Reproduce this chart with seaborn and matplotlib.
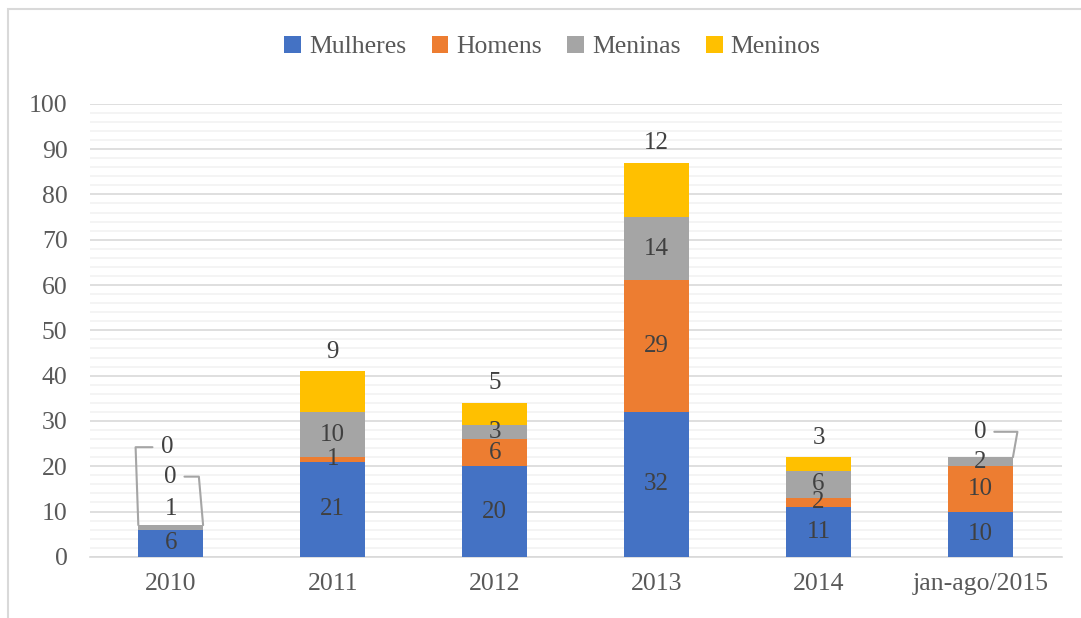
import pandas as pd
import matplotlib.pyplot as plt
import seaborn as sns
from matplotlib.colors import to_hex
from matplotlib.patches import Rectangle, Patch
from matplotlib.ticker import MultipleLocator


anos = ['2010', '2011', '2012', '2013', '2014', 'jan-ago/2015']
grupos = ['Mulheres', 'Homens', 'Meninas', 'Meninos']
mulheres = [6, 21, 20, 32, 11, 10]
homens = [0, 1, 6, 29, 2, 10]
meninas = [1, 10, 3, 14, 6, 2]
meninos = [0, 9, 5, 12, 3, 0]
cores = ['#4472C4', '#ED7D31', '#A5A5A5', '#FFC000']

valores = dict(zip(grupos, [mulheres, homens, meninas, meninos]))
df = pd.DataFrame(
    [(a, g, valores[g][i]) for g in grupos for i, a in enumerate(anos)],
    columns=['ano', 'grupo', 'n'],
)
df['ano'] = pd.Categorical(df['ano'], categories=anos, ordered=True)

sns.set_style('white')
plt.rcParams['font.family'] = ['Liberation Serif', 'DejaVu Serif']
cinza_txt = '#595959'
cor_lab = '#404040'
fs = 18

fig = plt.figure(figsize=(10.81, 6.18), dpi=100)
ax = fig.add_axes([0.083, 0.099, 0.899, 0.733])

# seaborn stacks the last hue level at the bottom, so reverse the order
sns.histplot(
    data=df, x='ano', hue='grupo', weights='n',
    multiple='stack', discrete=True, shrink=0.4,
    hue_order=grupos[::-1], palette=dict(zip(grupos, cores)),
    alpha=1, linewidth=0, legend=False, ax=ax, zorder=3,
)

# find which container is which group by its colour
cor2grupo = {c.lower(): g for g, c in zip(grupos, cores)}
conts = {}
for c in ax.containers:
    cor = to_hex(c.patches[0].get_facecolor()).lower()
    conts[cor2grupo[cor]] = c

for g in grupos:
    labs = [str(v) if v > 0 else '' for v in valores[g]]
    if g == 'Meninos':
        ax.bar_label(conts[g], labels=labs, label_type='edge', padding=6,
                     fontsize=fs, color=cor_lab)
    else:
        if g == 'Meninas':
            labs[0] = ''
        ax.bar_label(conts[g], labels=labs, label_type='center',
                     fontsize=fs, color=cor_lab)

# labels moved out of the way in the original (2010 and 2015)
lead = dict(arrowstyle='-', color='#A5A5A5', lw=1.5, shrinkA=0, shrinkB=0)
tot10 = mulheres[0] + homens[0] + meninas[0] + meninos[0]
ax.text(0, 10.5, str(meninas[0]), ha='center', va='center', fontsize=fs, color=cor_lab)
ax.annotate(str(homens[0]), xy=(0.2, tot10), xytext=(0, 17.7),
            ha='center', va='center', fontsize=fs, color=cor_lab,
            arrowprops=dict(lead, connectionstyle='angle,angleA=0,angleB=95,rad=0',
                            relpos=(1.6, 0.5)))
ax.annotate(str(meninos[0]), xy=(-0.2, tot10), xytext=(-0.02, 24.2),
            ha='center', va='center', fontsize=fs, color=cor_lab,
            arrowprops=dict(lead, connectionstyle='angle,angleA=180,angleB=92,rad=0',
                            relpos=(-0.7, 0.5)))
tot15 = mulheres[5] + homens[5] + meninas[5] + meninos[5]
ax.annotate(str(meninos[5]), xy=(5.2, tot15), xytext=(5.0, 27.6),
            ha='center', va='center', fontsize=fs, color=cor_lab,
            arrowprops=dict(lead, connectionstyle='angle,angleA=0,angleB=80,rad=0',
                            relpos=(1.6, 0.5)))

ax.set_xlim(-0.5, 5.5)
ax.set_ylim(0, 100)
ax.yaxis.set_major_locator(MultipleLocator(10))
ax.yaxis.set_minor_locator(MultipleLocator(2))
ax.grid(axis='y', which='major', color='#D9D9D9', lw=1.2, zorder=0)
ax.grid(axis='y', which='minor', color='#F2F2F2', lw=1.2, zorder=0)
ax.set_axisbelow(True)
ax.set_xticks(range(len(anos)))
ax.set_xticklabels(anos)
ax.tick_params(axis='both', length=0, labelsize=fs + 0.5, colors=cinza_txt)
ax.tick_params(axis='x', pad=12)
ax.tick_params(axis='y', pad=16)
ax.set_xlabel('')
ax.set_ylabel('')
for s in ['top', 'right', 'left']:
    ax.spines[s].set_visible(False)
ax.spines['bottom'].set_color('#D9D9D9')
ax.spines['bottom'].set_linewidth(1.2)

handles = [Patch(facecolor=c, edgecolor='none') for c in cores]
fig.legend(handles, grupos, loc='center', bbox_to_anchor=(0.511, 0.924), ncol=4,
           frameon=False, fontsize=fs + 0.5, labelcolor=cinza_txt,
           handlelength=0.65, handleheight=0.65, handletextpad=0.3, columnspacing=1.0)

fig.patches.append(Rectangle((8 / 1081, -0.05), 1.1, 1.05 - 9 / 618,
                             transform=fig.transFigure, fill=False,
                             edgecolor='#D9D9D9', lw=1.5))

fig.savefig('out.png', dpi=100)
